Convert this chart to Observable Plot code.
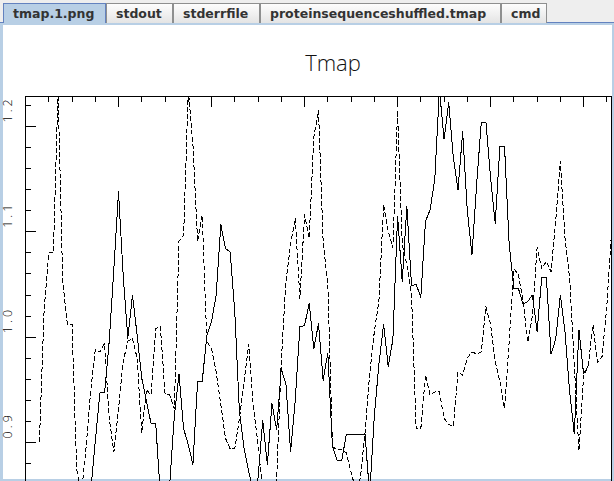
<!DOCTYPE html>
<html><head><meta charset="utf-8">
<script src="https://cdn.jsdelivr.net/npm/d3@7"></script>
<script src="https://cdn.jsdelivr.net/npm/@observablehq/plot@0.6"></script>
<style>
html,body{margin:0;padding:0;width:614px;height:481px;overflow:hidden;background:#eeeeee;}
#stage{position:absolute;left:0;top:0;width:614px;height:481px;overflow:hidden;}
.tab{position:absolute;top:3px;height:20px;box-sizing:border-box;border:1px solid #8e8f8f;border-bottom:none;background:linear-gradient(#fdfdfd,#e4e4e4);font:bold 12.5px "DejaVu Sans",sans-serif;color:#333;line-height:19px;padding-left:9px;white-space:nowrap;}
.tab.sel{background:#b8cfe5;border-color:#6382bf;}
#panelBorder{position:absolute;left:0;top:22px;width:614px;height:459px;background:#b8cfe5;border-top:1px solid #6382bf;box-sizing:border-box;}
#panel{position:absolute;left:3px;top:25px;width:609px;height:454px;background:#fff;}
#title{position:absolute;left:233px;width:200px;top:47px;text-align:center;font:300 22px "Open Sans",sans-serif;color:#111;}
#chart{position:absolute;left:0;top:0;width:614px;}
</style></head>
<body>
<div id="stage">
  <div id="panelBorder"></div>
  <div id="panel"></div>
  <div class="tab sel" style="left:3px;width:103px;">tmap.1.png</div>
  <div class="tab" style="left:106px;width:67px;">stdout</div>
  <div class="tab" style="left:173px;width:87px;">stderrfile</div>
  <div class="tab" style="left:260px;width:241px;">proteinsequenceshuffled.tmap</div>
  <div class="tab" style="left:501px;width:46px;">cmd</div>
  <div id="title">Tmap</div>
  <div id="chart"></div>
</div>
<script>
// residue position of the first point of each curve
const dashedStart = 3;
const solidStart = 14;

// dashed curve, residues 3..126
const dashedValues = [
  0.901, 1.025, 1.080, 1.080, 1.235, 1.053, 1.012, 1.012, 0.875, 0.850,
  0.894, 0.948, 0.988, 0.986, 0.994, 0.923, 0.891, 0.932, 0.977, 0.996,
  0.999, 0.980, 0.909, 0.950, 0.945, 1.008, 1.010, 0.947, 0.945, 0.932,
  1.091, 1.097, 1.235, 1.183, 1.091, 1.116, 0.996, 0.989, 0.967, 0.936,
  0.904, 0.894, 0.894, 0.923, 0.958, 0.993, 0.934, 0.898, 0.855, 0.845,
  0.845, 0.866, 0.977, 1.053, 1.088, 1.113, 1.037, 1.116, 1.094, 1.190,
  1.215, 1.090, 1.050, 0.896, 0.893, 0.893, 0.890, 0.872, 0.855, 0.866,
  0.909, 0.965, 1.005, 1.035, 1.126, 1.100, 1.085, 1.215, 1.088, 1.069,
  1.040, 0.913, 0.913, 0.964, 0.945, 0.948, 0.948, 0.923, 0.917, 0.915,
  0.967, 0.964, 0.980, 0.986, 0.984, 0.986, 1.029, 1.012, 0.977, 0.958,
  0.932, 0.996, 1.065, 1.059, 1.034, 0.995, 1.020, 1.085, 1.065, 1.072,
  1.062, 1.110, 1.167, 1.094, 1.056, 0.974, 0.892, 0.963, 0.973, 1.012,
  0.976, 0.982, 1.030, 1.100
];

// solid curve, residues 14..121
const solidValues = [
  0.853, 0.901, 0.947, 0.947, 0.996, 1.065, 1.138, 1.059, 0.999, 1.040,
  1.002, 0.961, 0.939, 0.918, 0.918, 0.850, 0.845, 0.860, 0.925, 0.965,
  0.913, 0.898, 0.879, 0.958, 0.958, 1.002, 1.015, 1.040, 1.107, 1.084,
  1.081, 1.024, 0.929, 0.894, 0.872, 0.855, 0.866, 0.921, 0.879, 0.937,
  0.912, 0.970, 0.955, 0.891, 0.940, 1.010, 1.011, 1.032, 0.989, 1.013,
  0.959, 0.985, 0.896, 0.883, 0.883, 0.908, 0.908, 0.908, 0.908, 0.908,
  0.850, 0.925, 0.975, 1.012, 0.972, 0.998, 1.115, 1.053, 1.124, 1.049,
  1.050, 1.038, 1.110, 1.121, 1.150, 1.235, 1.188, 1.223, 1.170, 1.140,
  1.195, 1.120, 1.078, 1.145, 1.204, 1.204, 1.151, 1.108, 1.181, 1.181,
  1.088, 1.046, 1.046, 1.031, 1.034, 1.040, 1.005, 1.057, 1.057, 0.984,
  0.998, 1.040, 1.005, 0.948, 0.908, 1.007, 0.965, 0.973
];

const xDomain = [0, 126];
const xMinorTicks = [0,5,10,15,20,25,30,35,40,45,50,55,60,65,70,75,80,85,90,95,100,105,110,115,120,125];
const xMajorTicks = [0,20,40,60,80,100,120];
const yMinorTicks = [0.80,0.82,0.84,0.86,0.88,0.90,0.92,0.94,0.96,0.98,1.00,1.02,1.04,1.06,1.08,1.10,1.12,1.14,1.16,1.18,1.20,1.22];
const yMajorTicks = [0.9,1.0,1.1,1.2];
const yTickLabels = ["0.9","1.0","1.1","1.2"];

const dashed = dashedValues.map((v, k) => ({pos: dashedStart + k, v}));
const solid = solidValues.map((v, k) => ({pos: solidStart + k, v}));

const W = 614, H = 560, mT = 96, mL = 25, mR = 3, mB = 0;
const innerW = W - mL - mR, innerH = H - mT - mB;

const chart = Plot.plot({
  width: W, height: H,
  marginTop: mT, marginLeft: mL, marginRight: mR, marginBottom: mB,
  style: {background: "transparent", overflow: "visible"},
  x: {domain: xDomain, axis: null},
  y: {domain: [0.78796, 1.22848], axis: null},
  marks: [
    Plot.frame({stroke: "black", strokeWidth: 1, shapeRendering: "crispEdges"}),
    Plot.tickX(xMinorTicks, {x: d => d, insetBottom: innerH - 6, stroke: "black", shapeRendering: "crispEdges"}),
    Plot.tickX(xMajorTicks, {x: d => d, insetBottom: innerH - 11, stroke: "black", shapeRendering: "crispEdges"}),
    Plot.tickY(yMinorTicks, {y: d => d, insetRight: innerW - 6, stroke: "black", shapeRendering: "crispEdges"}),
    Plot.tickY(yMajorTicks, {y: d => d, insetRight: innerW - 11, stroke: "black", shapeRendering: "crispEdges"}),
    Plot.text(yMajorTicks, {
      y: d => d, text: (d, i) => yTickLabels[i],
      frameAnchor: "left", dx: -18, dy: -4, rotate: -90,
      fontSize: 12.5, fontFamily: "Open Sans", fontWeight: 300, fill: "#000"
    }),
    Plot.line(solid, {x: "pos", y: "v", stroke: "black", strokeWidth: 1, clip: true, shapeRendering: "crispEdges"}),
    Plot.line(dashed, {x: "pos", y: "v", stroke: "black", strokeWidth: 1, strokeDasharray: "4,3", clip: true, shapeRendering: "crispEdges"})
  ]
});
d3.select(chart).selectAll("text").attr("letter-spacing", "3");
document.getElementById("chart").appendChild(chart);
</script>
</body></html>
